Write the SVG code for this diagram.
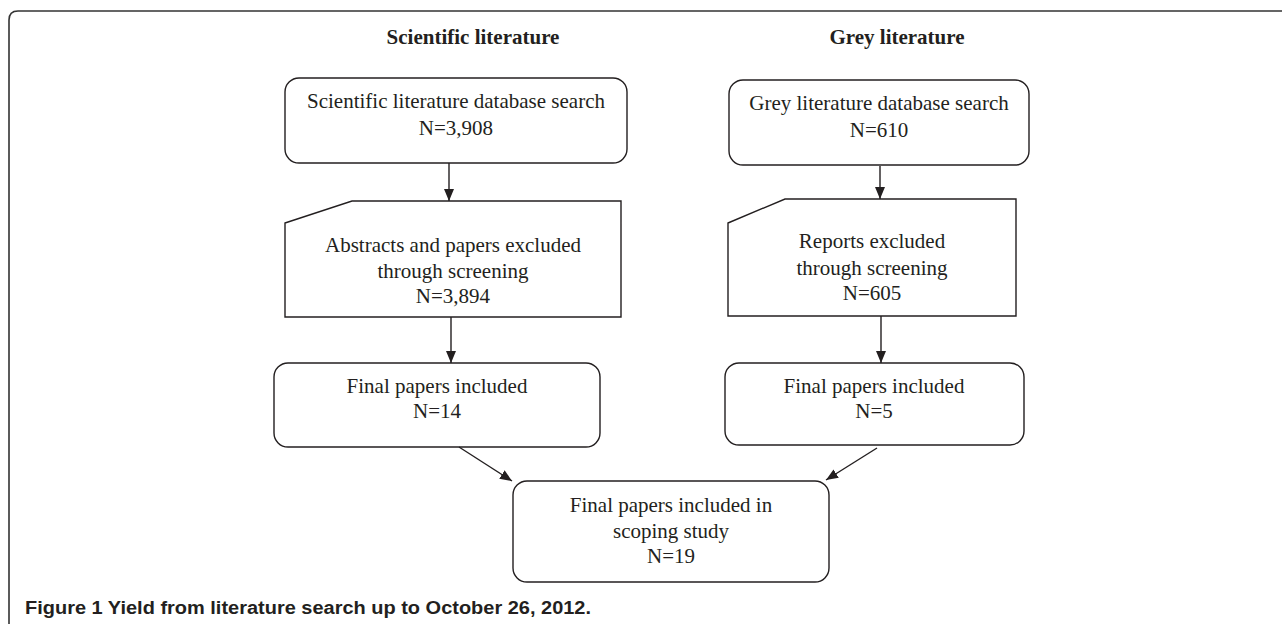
<svg xmlns="http://www.w3.org/2000/svg" width="1282" height="624" viewBox="0 0 1282 624">
<style>
.box{fill:#fff;stroke:#231f20;stroke-width:1.4}
.t{font-family:"Liberation Serif","Times New Roman",serif;font-size:21px;fill:#231f20;text-anchor:middle}
.h{font-family:"Liberation Serif","Times New Roman",serif;font-size:21px;font-weight:bold;fill:#231f20;text-anchor:middle}
.c{stroke:#231f20;stroke-width:1.4;fill:none;marker-end:url(#ah)}
.cap{font-family:"Liberation Sans",Arial,sans-serif;font-size:18px;font-weight:bold;fill:#231f20}
</style>
<defs>
<marker id="ah" viewBox="0 0 12 10" refX="12" refY="5" markerWidth="12" markerHeight="10" markerUnits="userSpaceOnUse" orient="auto">
<path d="M0,0 L12,5 L0,10 Z" fill="#231f20"/>
</marker>
</defs>
<rect width="1282" height="624" fill="#fff"/>
<path d="M9,624 V20 Q9,11 18,11 H1282" fill="none" stroke="#333" stroke-width="1.6"/>
<text class="h" x="473" y="44">Scientific literature</text>
<text class="h" x="897" y="44">Grey literature</text>
<g id="sci-search">
<rect class="box" x="285" y="78" width="342" height="85" rx="14"/>
<text class="t" x="456" y="108">Scientific literature database search</text>
<text class="t" x="456" y="135">N=3,908</text>
</g>
<g id="grey-search">
<rect class="box" x="729" y="80" width="300" height="85" rx="14"/>
<text class="t" x="879" y="110">Grey literature database search</text>
<text class="t" x="879" y="137">N=610</text>
</g>
<g id="sci-excluded">
<path class="box" d="M285,223 L352,201 H621 V317 H285 Z"/>
<text class="t" x="453" y="252">Abstracts and papers excluded</text>
<text class="t" x="453" y="278">through screening</text>
<text class="t" x="453" y="303">N=3,894</text>
</g>
<g id="grey-excluded">
<path class="box" d="M728,223 L785,199 H1016 V316 H728 Z"/>
<text class="t" x="872" y="248">Reports excluded</text>
<text class="t" x="872" y="275">through screening</text>
<text class="t" x="872" y="300">N=605</text>
</g>
<g id="sci-final">
<rect class="box" x="274" y="363" width="326" height="84" rx="14"/>
<text class="t" x="437" y="393">Final papers included</text>
<text class="t" x="437" y="418">N=14</text>
</g>
<g id="grey-final">
<rect class="box" x="725" y="363" width="299" height="82" rx="14"/>
<text class="t" x="874" y="393">Final papers included</text>
<text class="t" x="874" y="418">N=5</text>
</g>
<g id="scoping">
<rect class="box" x="513" y="481" width="316" height="101" rx="14"/>
<text class="t" x="671" y="512">Final papers included in</text>
<text class="t" x="671" y="538">scoping study</text>
<text class="t" x="671" y="563">N=19</text>
</g>
<g id="connectors">
<line class="c" x1="449" y1="163" x2="449" y2="201"/>
<line class="c" x1="880" y1="166" x2="880" y2="199"/>
<line class="c" x1="451" y1="317" x2="451" y2="363"/>
<line class="c" x1="881" y1="316" x2="881" y2="363"/>
<line class="c" x1="459" y1="447" x2="512" y2="481"/>
<line class="c" x1="877" y1="448" x2="826" y2="480"/>
</g>
<text class="cap" x="25" y="614" textLength="566" lengthAdjust="spacingAndGlyphs">Figure 1 Yield from literature search up to October 26, 2012.</text>
</svg>
